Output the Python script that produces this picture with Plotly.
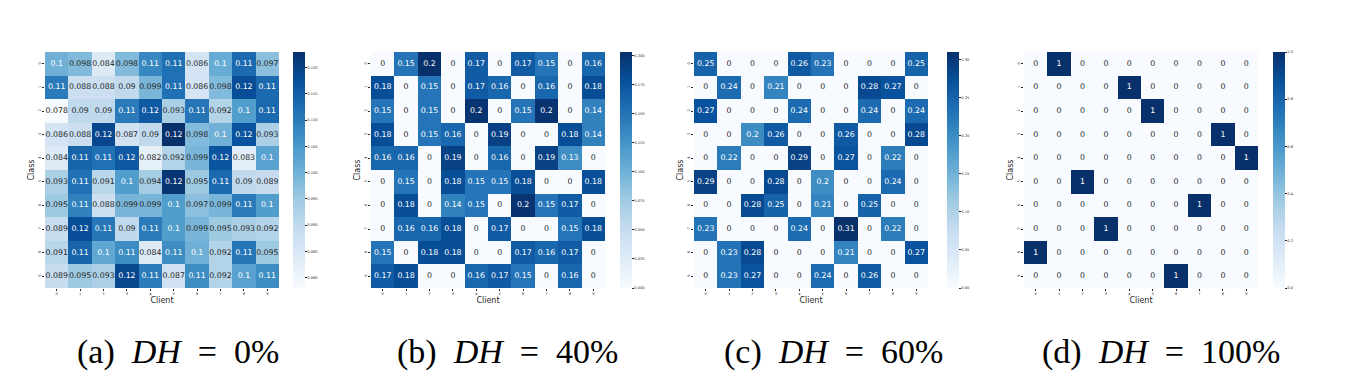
import plotly.graph_objects as go
import plotly.express as px

W, H = 1346, 386
PAGE_OFF = 8  # browser default body margin

classes = list(range(10))
clients = list(range(10))
tick_labels = [str(i) for i in range(10)]

dh0 = [
    [0.100, 0.098, 0.084, 0.098, 0.108, 0.112, 0.086, 0.101, 0.113, 0.097],
    [0.110, 0.088, 0.088, 0.090, 0.099, 0.112, 0.086, 0.098, 0.118, 0.113],
    [0.078, 0.090, 0.090, 0.110, 0.116, 0.093, 0.111, 0.092, 0.104, 0.113],
    [0.086, 0.088, 0.119, 0.087, 0.090, 0.123, 0.098, 0.100, 0.117, 0.093],
    [0.084, 0.114, 0.112, 0.116, 0.082, 0.092, 0.099, 0.117, 0.083, 0.103],
    [0.093, 0.112, 0.091, 0.104, 0.094, 0.122, 0.095, 0.113, 0.090, 0.089],
    [0.095, 0.109, 0.088, 0.099, 0.099, 0.104, 0.097, 0.099, 0.110, 0.104],
    [0.089, 0.118, 0.111, 0.090, 0.110, 0.104, 0.099, 0.095, 0.093, 0.092],
    [0.091, 0.114, 0.102, 0.107, 0.084, 0.107, 0.100, 0.092, 0.111, 0.095],
    [0.089, 0.095, 0.093, 0.119, 0.110, 0.087, 0.107, 0.092, 0.103, 0.107],
]

dh40 = [
    [0, 0.15, 0.203, 0, 0.17, 0, 0.17, 0.15, 0, 0.16],
    [0.18, 0, 0.15, 0, 0.17, 0.16, 0, 0.16, 0, 0.18],
    [0.15, 0, 0.15, 0, 0.20, 0, 0.15, 0.20, 0, 0.14],
    [0.18, 0, 0.15, 0.16, 0, 0.19, 0, 0, 0.18, 0.14],
    [0.16, 0.16, 0, 0.19, 0, 0.16, 0, 0.19, 0.13, 0],
    [0, 0.15, 0, 0.18, 0.15, 0.15, 0.18, 0, 0, 0.18],
    [0, 0.18, 0, 0.14, 0.15, 0, 0.20, 0.15, 0.17, 0],
    [0, 0.16, 0.16, 0.18, 0, 0.17, 0, 0, 0.15, 0.18],
    [0.15, 0, 0.18, 0.18, 0, 0, 0.17, 0.16, 0.17, 0],
    [0.17, 0.18, 0, 0, 0.16, 0.17, 0.15, 0, 0.16, 0],
]

dh60 = [
    [0.25, 0, 0, 0, 0.26, 0.23, 0, 0, 0, 0.25],
    [0, 0.24, 0, 0.21, 0, 0, 0, 0.28, 0.27, 0],
    [0.27, 0, 0, 0, 0.24, 0, 0, 0.24, 0, 0.24],
    [0, 0, 0.20, 0.26, 0, 0, 0.26, 0, 0, 0.28],
    [0, 0.22, 0, 0, 0.29, 0, 0.27, 0, 0.22, 0],
    [0.29, 0, 0, 0.28, 0, 0.20, 0, 0, 0.24, 0],
    [0, 0, 0.28, 0.25, 0, 0.21, 0, 0.25, 0, 0],
    [0.23, 0, 0, 0, 0.24, 0, 0.31, 0, 0.22, 0],
    [0, 0.23, 0.28, 0, 0, 0, 0.21, 0, 0, 0.27],
    [0, 0.23, 0.27, 0, 0, 0.24, 0, 0.26, 0, 0],
]

dh100 = [
    [0, 1, 0, 0, 0, 0, 0, 0, 0, 0],
    [0, 0, 0, 0, 1, 0, 0, 0, 0, 0],
    [0, 0, 0, 0, 0, 1, 0, 0, 0, 0],
    [0, 0, 0, 0, 0, 0, 0, 0, 1, 0],
    [0, 0, 0, 0, 0, 0, 0, 0, 0, 1],
    [0, 0, 1, 0, 0, 0, 0, 0, 0, 0],
    [0, 0, 0, 0, 0, 0, 0, 1, 0, 0],
    [0, 0, 0, 1, 0, 0, 0, 0, 0, 0],
    [1, 0, 0, 0, 0, 0, 0, 0, 0, 0],
    [0, 0, 0, 0, 0, 0, 1, 0, 0, 0],
]

captions = ["(a)", "(b)", "(c)", "(d)"]
dh_levels = ["0%", "40%", "60%", "100%"]
cbar_ticks = [
    [0.080, 0.085, 0.090, 0.095, 0.100, 0.105, 0.110, 0.115, 0.120],
    [0.000, 0.025, 0.050, 0.075, 0.100, 0.125, 0.150, 0.175, 0.200],
    [0.00, 0.05, 0.10, 0.15, 0.20, 0.25, 0.30],
    [0.0, 0.2, 0.4, 0.6, 0.8, 1.0],
]
cbar_fmt = [".3f", ".3f", ".2f", ".1f"]
matrices = [dh0, dh40, dh60, dh100]

# layout geometry (pixels on screen; corrected for page margin below)
hm_left = [45, 371, 694, 1024]
hm_w = 234
hm_top, hm_bot = 52, 288
cb_left = [293, 620, 947, 1273]
cap_cx = [178, 507, 833, 1161]
cap_cy = 352


def px_x(v):
    return (v - PAGE_OFF) / W


def px_y(v):
    return 1 - (v - PAGE_OFF) / H


blues = px.colors.sequential.Blues
scale = [[i / (len(blues) - 1), c] for i, c in enumerate(blues)]


def parse(c):
    if c.startswith("#"):
        h = c.lstrip("#")
        return tuple(int(h[i:i + 2], 16) for i in (0, 2, 4))
    nums = c[c.index("(") + 1:c.index(")")].split(",")
    return tuple(int(float(n)) for n in nums)


blue_rgb = [parse(c) for c in blues]


def color_at(t):
    t = min(max(t, 0), 1)
    pos = t * (len(blue_rgb) - 1)
    i = min(int(pos), len(blue_rgb) - 2)
    f = pos - i
    a, b = blue_rgb[i], blue_rgb[i + 1]
    return tuple(a[k] + (b[k] - a[k]) * f for k in range(3))


def lum(rgb):
    def ch(v):
        v = v / 255
        return v / 12.92 if v <= 0.03928 else ((v + 0.055) / 1.055) ** 2.4
    r, g, b = (ch(v) for v in rgb)
    return 0.2126 * r + 0.7152 * g + 0.0722 * b


fig = go.Figure()
yd = [px_y(hm_bot), px_y(hm_top)]

for k, m in enumerate(matrices):
    sfx = "" if k == 0 else str(k + 1)
    flat = [v for row in m for v in row]
    zmin, zmax = min(flat), max(flat)
    fig.add_trace(go.Heatmap(
        z=m, x=clients, y=classes, colorscale=scale, zmin=zmin, zmax=zmax,
        xaxis="x" + sfx, yaxis="y" + sfx, hoverinfo="skip",
        colorbar=dict(
            x=px_x(cb_left[k]), xanchor="left", xref="paper",
            y=px_y((hm_top + hm_bot) / 2), yanchor="middle", yref="paper",
            lenmode="pixels", len=hm_bot - hm_top, thickness=12,
            xpad=0, ypad=0, outlinewidth=0,
            tickvals=cbar_ticks[k], tickformat=cbar_fmt[k],
            ticks="outside", ticklen=2, tickwidth=0.6, tickcolor="#262626",
            tickfont=dict(size=3.6, color="#262626", family="DejaVu Sans"),
        ),
    ))
    xs, ys, txt, cols = [], [], [], []
    for i, row in enumerate(m):
        for j, v in enumerate(row):
            xs.append(clients[j])
            ys.append(classes[i])
            txt.append(format(v, ".2g"))
            t = (v - zmin) / (zmax - zmin) if zmax > zmin else 0
            cols.append("#262626" if lum(color_at(t)) > 0.408 else "#ffffff")
    fig.add_trace(go.Scatter(
        x=xs, y=ys, text=txt, mode="text", xaxis="x" + sfx, yaxis="y" + sfx,
        textfont=dict(size=7.8, color=cols, family="DejaVu Sans"),
        hoverinfo="skip", showlegend=False,
    ))
    xd = [px_x(hm_left[k]), px_x(hm_left[k] + hm_w)]
    fig.layout["xaxis" + sfx] = dict(
        domain=xd, anchor="y" + sfx, range=[-0.5, 9.5], automargin=False,
        tickvals=clients, ticktext=tick_labels, ticks="outside", ticklen=2,
        tickwidth=0.6, tickcolor="#262626",
        tickfont=dict(size=3.6, color="#262626", family="DejaVu Sans"),
        showgrid=False, zeroline=False, showline=False,
        title=dict(text="Client", standoff=1,
                   font=dict(size=8, color="#262626", family="DejaVu Sans")),
    )
    fig.layout["yaxis" + sfx] = dict(
        domain=yd, anchor="x" + sfx, range=[9.5, -0.5], automargin=False,
        tickvals=classes, ticktext=tick_labels, ticks="outside", ticklen=2,
        tickwidth=0.6, tickcolor="#262626", tickangle=-90,
        tickfont=dict(size=3.6, color="#262626", family="DejaVu Sans"),
        showgrid=False, zeroline=False, showline=False,
        title=dict(text="Class", standoff=1,
                   font=dict(size=8, color="#262626", family="DejaVu Sans")),
    )
    fig.add_annotation(
        x=px_x(cap_cx[k]), y=px_y(cap_cy), xref="paper", yref="paper",
        xanchor="center", yanchor="middle", showarrow=False,
        text=f"{captions[k]}&nbsp;&nbsp;<i>DH</i>&nbsp;&nbsp;=&nbsp;&nbsp;{dh_levels[k]}",
        font=dict(size=34, color="#000000", family="Liberation Serif"),
    )

fig.update_layout(
    width=W, height=H, margin=dict(l=0, r=0, t=0, b=0, autoexpand=False),
    paper_bgcolor="white", plot_bgcolor="white", showlegend=False,
)

fig.write_html("out.html")
